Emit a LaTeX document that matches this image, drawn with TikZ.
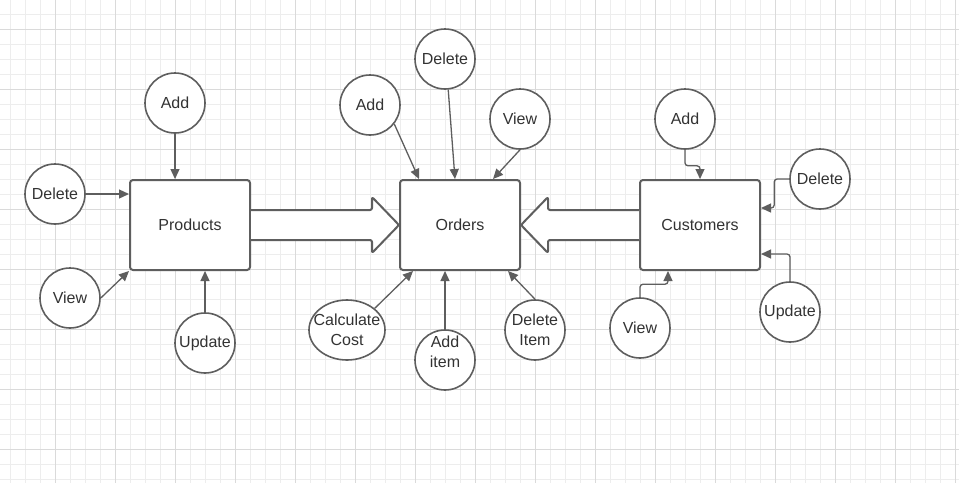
\documentclass[tikz,border=0pt]{standalone}
\usepackage{fontspec}
\setmainfont{Liberation Sans}
\usetikzlibrary{calc,shapes.geometric,arrows.meta}
\definecolor{gridminor}{HTML}{EDEDED}
\definecolor{gridmajor}{HTML}{DADADA}
\definecolor{edge}{HTML}{5E5E5E}
\definecolor{txt}{HTML}{333333}
\tikzset{
  entity/.style={draw=edge,line width=2pt,fill=white,rounded corners=3pt,
    minimum width=120pt,minimum height=90pt,text=txt},
  proc/.style={circle,draw=edge,line width=1.6pt,fill=white,minimum size=60pt,
    inner sep=0pt,text=txt,align=center},
  conn/.style={draw=edge,line width=1.3pt,-{Triangle[length=10pt,width=9pt]}},
  flow/.style={draw=edge,line width=2pt,fill=white,rounded corners=2pt,line join=round}
}

\begin{document}
\begin{tikzpicture}[x=1pt,y=-1pt,font=\fontsize{16}{19.5}\selectfont]
  \useasboundingbox (0,0) rectangle (959,483);
  \fill[white] (0,0) rectangle (959,483);
  % grid
  \foreach \x in {10,25,...,955}
    \draw[gridminor,line width=1pt] (\x,0) -- (\x,483);
  \foreach \y in {14,29,...,479}
    \draw[gridminor,line width=1pt] (0,\y) -- (959,\y);
  \foreach \x in {55,115,...,955}
    \draw[gridmajor,line width=1pt] (\x,0) -- (\x,483);
  \foreach \y in {29,89,...,449}
    \draw[gridmajor,line width=1pt] (0,\y) -- (959,\y);

  % main boxes
  \node[entity] (prod) at (190,225) {Products};
  \node[entity] (ord) at (460,225) {Orders};
  \node[entity] (cust) at (700,225) {Customers};

  % block arrows
  \draw[flow] ([yshift=15pt]prod.east) -- ([xshift=-27pt,yshift=15pt]ord.west)
    -- ([xshift=-27pt,yshift=28pt]ord.west) -- (ord.west)
    -- ([xshift=-27pt,yshift=-28pt]ord.west) -- ([xshift=-27pt,yshift=-15pt]ord.west)
    -- ([yshift=-15pt]prod.east);
  \draw[flow] ([yshift=15pt]cust.west) -- ([xshift=27pt,yshift=15pt]ord.east)
    -- ([xshift=27pt,yshift=28pt]ord.east) -- (ord.east)
    -- ([xshift=27pt,yshift=-28pt]ord.east) -- ([xshift=27pt,yshift=-15pt]ord.east)
    -- ([yshift=-15pt]cust.west);

  % products
  \node[proc] (padd) at (175,103) {Add};
  \node[proc] (pdel) at (55,194) {Delete};
  \node[proc] (pview) at (70,298) {View};
  \node[proc] (pupd) at (205,343) {Update};
  \draw[conn] (padd) -- (padd |- prod.north);
  \draw[conn] (pdel) -- (pdel -| prod.west);
  \draw[conn] (pview.east) -- (prod.south west);
  \draw[conn] (pupd) -- (pupd |- prod.south);

  % orders
  \node[proc] (oadd) at (370,105) {Add};
  \node[proc] (odel) at (445,59) {Delete};
  \node[proc] (oview) at (520,119) {View};
  \node[proc,ellipse,inner xsep=-8pt,minimum width=76pt,minimum height=60pt] (ocalc) at (347,330) {Calculate\\Cost};
  \node[proc,label={[align=center,text=txt,yshift=8pt]center:Add\\item}] (oitem) at (445,360) {};
  \node[proc] (odelit) at (535,330) {Delete\\Item};
  \draw[conn] (oadd.-38) -- ([xshift=-41pt]ord.north);
  \draw[conn] (odel.-84) -- ([xshift=-5pt]ord.north);
  \draw[conn] (oview.south) -- ([xshift=33pt]ord.north);
  \draw[conn] (ocalc.38) -- ([xshift=-47pt]ord.south);
  \draw[conn] (oitem.north) -- (oitem |- ord.south);
  \draw[conn] (odelit.north) -- ([xshift=48pt]ord.south);

  % customers
  \node[proc] (cadd) at (685,119) {Add};
  \node[proc] (cdel) at (820,179) {Delete};
  \node[proc] (cview) at (640,328) {View};
  \node[proc] (cupd) at (790,312) {Update};
  \draw[conn,rounded corners=3pt] (cadd.south) -- ++(0,16) -| (cust.north);
  \draw[conn,rounded corners=3pt] (cdel.west) -- ++(-15,0) |- ([yshift=17pt]cust.east);
  \draw[conn,rounded corners=3pt] (cview.north) -- ++(0,-13) -| ([xshift=-32pt]cust.south);
  \draw[conn,rounded corners=3pt] (cupd.north) |- ([yshift=-29pt]cust.east);
\end{tikzpicture}
\end{document}
